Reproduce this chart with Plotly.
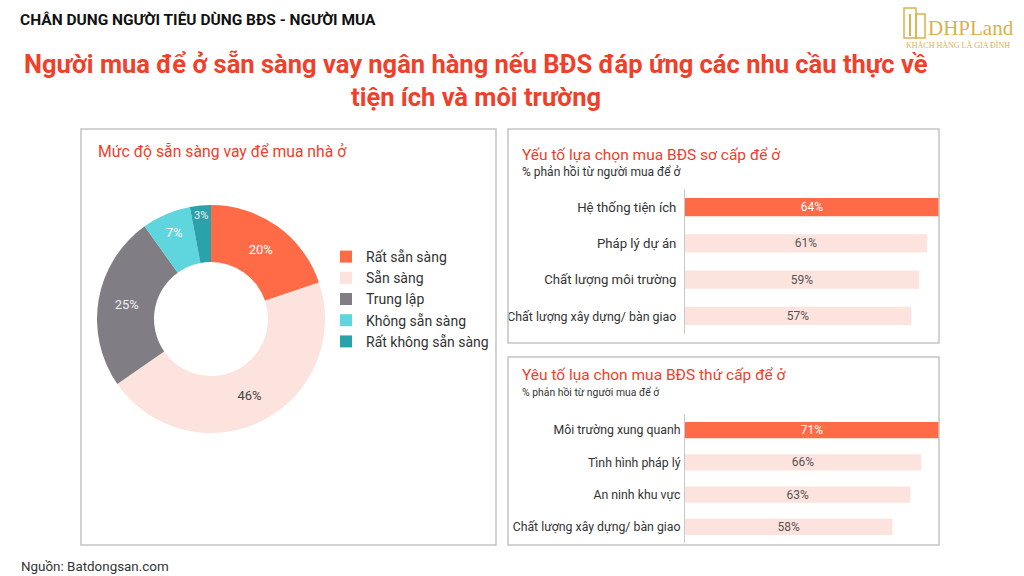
import plotly.graph_objects as go

W, H = 1024, 576

def px(x):
    return x / W

def py(y):
    return 1 - y / H

# ---- data ----
pie_labels = ["Rất sẵn sàng", "Sẵn sàng", "Trung lập", "Không sẵn sàng", "Rất không sẵn sàng"]
pie_values = [20, 46, 25, 7, 3]
pie_colors = ["#FF6B47", "#FDE3DD", "#807E84", "#5FD5DE", "#2AA2A9"]
pie_text_colors = ["#FFFFFF", "#444444", "#EEEEEE", "#FFFFFF", "#F2F2F2"]

primary_labels = ["Hệ thống tiện ích", "Pháp lý dự án", "Chất lượng môi trường", "Chất lượng xây dựng/ bàn giao"]
primary_values = [64, 61, 59, 57]

secondary_labels = ["Môi trường xung quanh", "Tình hình pháp lý", "An ninh khu vực", "Chất lượng xây dựng/ bàn giao"]
secondary_values = [71, 66, 63, 58]

ORANGE = "#FF6B47"
PALE = "#FDE3DD"
RED = "#F0402A"
FONT = "Roboto"

fig = go.Figure()

# Donut
fig.add_trace(go.Pie(
    labels=pie_labels,
    values=pie_values,
    hole=0.5,
    sort=False,
    direction="clockwise",
    rotation=0,
    marker=dict(colors=pie_colors, line=dict(color="#FFFFFF", width=0)),
    texttemplate="%{value}%",
    textposition="inside",
    insidetextorientation="horizontal",
    textfont=dict(family=FONT, size=13, color=pie_text_colors),
    domain=dict(x=[px(97), px(325)], y=[py(433), py(205)]),
    showlegend=True,
    hoverinfo="label+value",
))

def bar_colors(n):
    return [ORANGE] + [PALE] * (n - 1)

def text_colors(n):
    return ["#FFFFFF"] + ["#555555"] * (n - 1)

fig.add_trace(go.Bar(
    x=primary_values, y=primary_labels, orientation="h",
    marker=dict(color=bar_colors(len(primary_values)), line=dict(width=0)),
    text=[f"{v}%" for v in primary_values],
    textposition="inside", insidetextanchor="middle", textangle=0,
    constraintext="none",
    insidetextfont=dict(family=FONT, size=12, color=text_colors(len(primary_values))),
    xaxis="x", yaxis="y", showlegend=False,
))

fig.add_trace(go.Bar(
    x=secondary_values, y=secondary_labels, orientation="h",
    marker=dict(color=bar_colors(len(secondary_values)), line=dict(width=0)),
    text=[f"{v}%" for v in secondary_values],
    textposition="inside", insidetextanchor="middle", textangle=0,
    constraintext="none",
    insidetextfont=dict(family=FONT, size=12, color=text_colors(len(secondary_values))),
    xaxis="x2", yaxis="y2", showlegend=False,
))

# tick text for the primary chart: the long last label is set slightly smaller
primary_ticktext = primary_labels[:-1] + [
    f'<span style="font-size:12.4px">{primary_labels[-1]}</span>'
]

# panels
panel_line = dict(color="#C4C4C4", width=1.5)
shapes = [
    dict(type="rect", xref="paper", yref="paper", x0=px(81), x1=px(496), y0=py(545), y1=py(129), line=panel_line),
    dict(type="rect", xref="paper", yref="paper", x0=px(508), x1=px(939), y0=py(343), y1=py(129), line=panel_line),
    dict(type="rect", xref="paper", yref="paper", x0=px(508), x1=px(939), y0=py(545), y1=py(357), line=panel_line),
]

# logo building (decorative)
gold = "#D9B24A"
shapes += [
    dict(type="rect", xref="paper", yref="paper", x0=px(904), x1=px(916), y0=py(38), y1=py(8), line=dict(color=gold, width=1.5), fillcolor="rgba(0,0,0,0)"),
    dict(type="rect", xref="paper", yref="paper", x0=px(916), x1=px(925), y0=py(38), y1=py(14), line=dict(color=gold, width=1.5), fillcolor="rgba(0,0,0,0)"),
    dict(type="line", xref="paper", yref="paper", x0=px(910), x1=px(910), y0=py(36), y1=py(14), line=dict(color=gold, width=2)),
]

def note(text, x, y, size, color, xanchor="left", family=FONT, align="left"):
    return dict(text=text, x=px(x), y=py(y), xref="paper", yref="paper", xanchor=xanchor, yanchor="middle",
                align=align, showarrow=False, font=dict(family=family, size=size, color=color))

annotations = [
    note("<b>CHÂN DUNG NGƯỜI TIÊU DÙNG BĐS - NGƯỜI MUA</b>", 18, 20, 15.5, "#111111"),
    note("<b>Người mua để ở sẵn sàng vay ngân hàng nếu BĐS đáp ứng các nhu cầu thực về</b>",
         476, 64, 25.5, RED, xanchor="center", align="center"),
    note("<b>tiện ích và môi trường</b>", 476, 97, 25.5, RED, xanchor="center", align="center"),
    note("DHPLand", 926, 28, 21, gold, family="Liberation Serif"),
    note("KHÁCH HÀNG LÀ GIA ĐÌNH", 958, 45, 8, gold, xanchor="center", family="Liberation Serif"),
    note("Mức độ sẵn sàng vay để mua nhà ở", 96, 152, 15.75, RED),
    note("Yếu tố lựa chọn mua BĐS sơ cấp để ở", 520, 155, 15.5, RED),
    note("% phản hồi từ người mua để ở", 520, 172, 12, "#333333"),
    note("Yêu tố lụa chon mua BĐS thứ cấp để ở", 520, 375, 15.5, RED),
    note("% phản hồi từ người mua để ở", 520, 392, 10.4, "#333333"),
    note("Nguồn: Batdongsan.com", 19, 566, 13.4, "#333333"),
]

fig.update_layout(
    width=W, height=H, autosize=False,
    margin=dict(l=0, r=0, t=0, b=0),
    paper_bgcolor="#FFFFFF", plot_bgcolor="#FFFFFF",
    font=dict(family=FONT, color="#333333"),
    shapes=shapes, annotations=annotations,
    bargap=0.5,
    legend=dict(x=px(326), y=py(241), xanchor="left", yanchor="top",
                font=dict(family=FONT, size=14, color="#333333"),
                bgcolor="rgba(0,0,0,0)", itemclick=False),
    xaxis=dict(domain=[px(685), px(939)], range=[0, 64], visible=False, fixedrange=True),
    yaxis=dict(domain=[py(334), py(189)], autorange="reversed", showline=True, linecolor="#C8C8C8", linewidth=1,
               ticks="", showgrid=False, tickfont=dict(family=FONT, size=13.2, color="#333333"), ticklabelstandoff=5,
               tickmode="array", tickvals=primary_labels, ticktext=primary_ticktext),
    xaxis2=dict(domain=[px(685), px(939)], range=[0, 71], visible=False, anchor="y2", fixedrange=True),
    yaxis2=dict(domain=[py(543), py(414)], autorange="reversed", showline=True, linecolor="#C8C8C8", linewidth=1,
                anchor="x2", ticks="", showgrid=False, tickfont=dict(family=FONT, size=12.3, color="#333333"),
                ticklabelstandoff=1),
)

fig.write_html("out.html")
